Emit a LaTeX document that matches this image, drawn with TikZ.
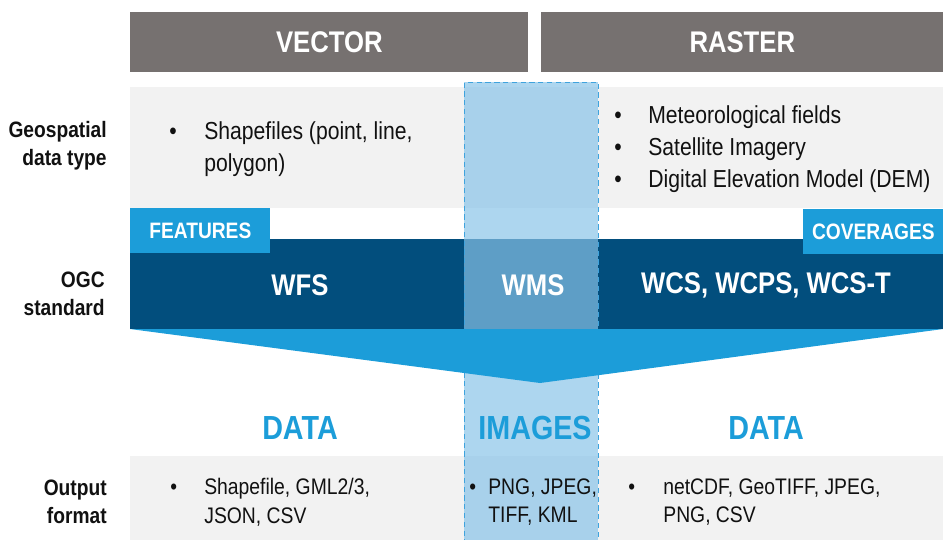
\documentclass[tikz,border=0pt]{standalone}
\usepackage{fontspec}
\setmainfont{Liberation Sans}[FakeStretch=0.86]
\usetikzlibrary{positioning}
\definecolor{HeadGray}{HTML}{767170}
\definecolor{RowGray}{HTML}{F2F2F2}
\definecolor{DeepBlue}{HTML}{024E7D}
\definecolor{MidBlue}{HTML}{1C9DD9}
\definecolor{ColBlue}{HTML}{88C3E8}
\definecolor{DashBlue}{HTML}{3FA3DD}
\definecolor{InkBlack}{HTML}{111111}
\tikzset{
  header/.style={fill=HeadGray, text=white, anchor=north west, inner sep=0pt, minimum height=1.2cm, font=\fontsize{17}{20}\selectfont\bfseries},
  rowbox/.style={fill=RowGray, anchor=north west, inner sep=0pt, minimum width=16.26cm},
  band/.style={fill=DeepBlue, anchor=north west, inner sep=0pt, minimum width=16.26cm, minimum height=1.8cm},
  tab/.style={fill=MidBlue, text=white, anchor=north west, inner sep=0pt, minimum width=2.8cm, minimum height=0.9cm, font=\fontsize{12.7}{15}\selectfont\bfseries},
  column/.style={fill=ColBlue, fill opacity=0.69, draw=DashBlue, dash pattern=on 3pt off 2pt, line width=0.5pt, anchor=north west, inner sep=0pt, minimum width=2.68cm, minimum height=9.4cm},
  svc/.style={text=white, font=\fontsize{17}{20}\selectfont\bfseries},
  kind/.style={text=MidBlue, font=\fontsize{19}{22}\selectfont\bfseries},
  rowlabel/.style={anchor=east, align=right, inner sep=0pt, text=InkBlack, font=\fontsize{12.7}{16}\selectfont\bfseries},
  items/.style={anchor=west, align=left, inner sep=0pt, text=InkBlack, font=\fontsize{14}{18.4}\selectfont},
  smallitems/.style={items, font=\fontsize{12.8}{16.4}\selectfont}
}
\newcommand{\bul}[1]{\makebox[#1][l]{\textbullet}}

\begin{document}
\begin{tikzpicture}[x=0.02cm, y=-0.02cm]
\clip (0,0) rectangle (943,539);

% headers
\node[header, minimum width=7.96cm] (vec) at (130,12) {VECTOR};
\node[header, minimum width=8.04cm] (ras) at (541,12) {RASTER};

% grey rows and the service band
\node[rowbox, minimum height=2.42cm] (georow) at (130,87) {};
\node[rowbox, minimum height=1.7cm] (outrow) at (130,456) {};
\node[band] (ogc) at (130,239) {};

% image column across all rows
\node[column] (wmscol) at (464,82) {};

% funnel under the band
\fill[MidBlue] (130,329) -- (943,329) -- (540,383) -- cycle;

\node[tab] (feat) at (130,208) {FEATURES};
\node[tab] (cov) at (803,209) {COVERAGES};

% row labels
\node[rowlabel] (lbgeo) at (107,146) {Geospatial\\data type};
\node[rowlabel] (lbogc) at (105,294) {OGC\\standard};
\node[rowlabel] (lbout) at (107,502) {Output\\format};

% data types
\node[items] (geovec) at (169,149) {\bul{0.7cm}Shapefiles (point, line,\\\hspace*{0.7cm}polygon)};
\node[items] (georas) at (614,149) {\bul{0.68cm}Meteorological fields\\\bul{0.68cm}Satellite Imagery\\\bul{0.68cm}Digital Elevation Model (DEM)};

% services
\node[svc] (wfs) at (300,285) {WFS};
\node[svc] (wms) at (533,285) {WMS};
\node[svc] (wcs) at (766,285) {WCS, WCPS, WCS-T};

\node[kind] (datavec) at (300,428) {DATA};
\node[kind] (images) at (535,428) {IMAGES};
\node[kind] (dataras) at (766,428) {DATA};

% output formats
\node[smallitems] (outvec) at (170,502) {\bul{0.68cm}Shapefile, GML2/3,\\\hspace*{0.68cm}JSON, CSV};
\node[smallitems] (outwms) at (469,502) {\bul{0.38cm}PNG, JPEG,\\\hspace*{0.38cm}TIFF, KML};
\node[smallitems] (outras) at (628,502) {\bul{0.7cm}netCDF, GeoTIFF, JPEG,\\\hspace*{0.7cm}PNG, CSV};
\end{tikzpicture}
\end{document}
